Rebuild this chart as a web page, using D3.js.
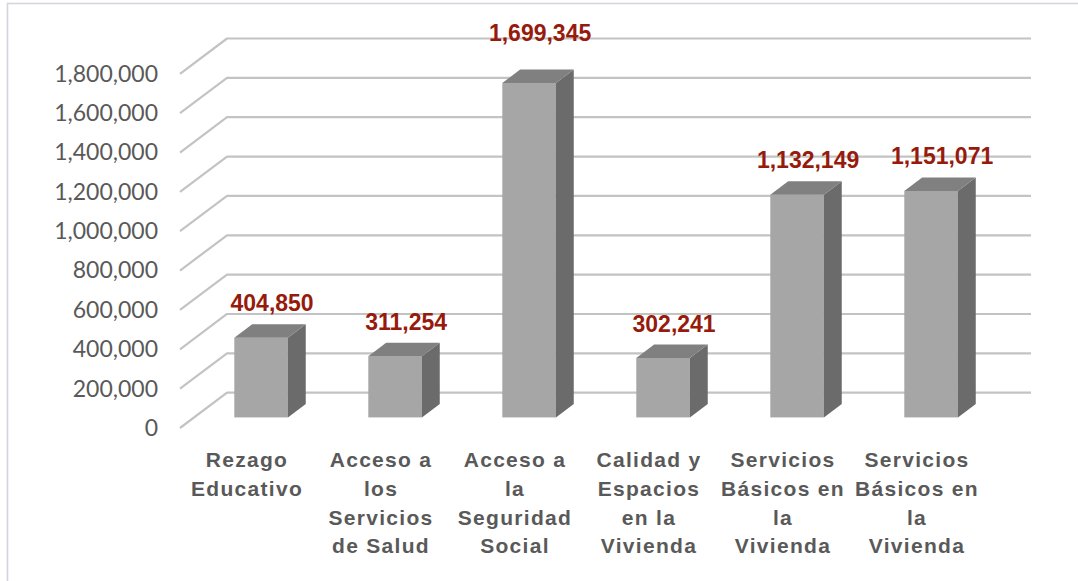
<!DOCTYPE html>
<html>
<head>
<meta charset="utf-8">
<script src="https://cdn.jsdelivr.net/npm/d3@7"></script>
<style>
  html, body { margin: 0; padding: 0; background: #ffffff; }
  svg { display: block; }
</style>
</head>
<body>
<svg id="chart" width="1078" height="581"></svg>
<script>
// ---- data ----
const categories = [
  "Rezago\nEducativo",
  "Acceso a\nlos\nServicios\nde Salud",
  "Acceso a\nla\nSeguridad\nSocial",
  "Calidad y\nEspacios\nen la\nVivienda",
  "Servicios\nBásicos en\nla\nVivienda",
  "Servicios\nBásicos en\nla\nVivienda"
];
const values = [404850, 311254, 1699345, 302241, 1132149, 1151071];
const tickValues = [0, 200000, 400000, 600000, 800000, 1000000, 1200000, 1400000, 1600000, 1800000];

// ---- layout ----
const W = 1078, H = 581;
const svg = d3.select("#chart");

const frontLeft = 180, frontRight = 984;
const floorFront = 428, topFront = 73.8;
const depthX = 47, depthY = -35.3;      // full depth offset of the 3D box
const barD1 = 0.30, barD2 = 0.68;       // bar front/back depth fractions
const lineH = 28.8;

const x = d3.scaleBand()
  .domain(d3.range(categories.length))
  .range([frontLeft, frontRight])
  .paddingInner(0.6)
  .paddingOuter(0.3);

const y = d3.scaleLinear()
  .domain([0, 1800000])
  .range([floorFront, topFront]);

const P = (px, py, d) => [px + d * depthX, py + d * depthY];

// border
svg.append("rect")
  .attr("x", 7.5).attr("y", 3.5)
  .attr("width", W + 20).attr("height", H + 20)
  .attr("fill", "none")
  .attr("stroke", "#d3d5de")
  .attr("stroke-width", 1.6);

// gridlines (side wall diagonals + back wall horizontals)
const grid = svg.append("g");
tickValues.forEach(v => {
  const f = [frontLeft, y(v)];
  const b = P(frontLeft, y(v), 1);
  const bEnd = P(frontRight, y(v), 1);
  grid.append("path")
    .attr("d", d3.line()([f, b, bEnd]))
    .attr("fill", "none")
    .attr("stroke", "#c3c3c3")
    .attr("stroke-width", 2.2)
    .attr("stroke-linejoin", "round");
});

// y axis labels
const yAxis = d3.axisLeft(y)
  .tickValues(tickValues)
  .tickFormat(d3.format(","))
  .tickSize(0)
  .tickPadding(22);
const gy = svg.append("g")
  .attr("transform", `translate(${frontLeft},0)`)
  .call(yAxis);
gy.select(".domain").remove();
gy.selectAll("text")
  .attr("fill", "#595959")
  .style("font-family", "Lato, 'Open Sans', sans-serif")
  .style("font-size", "23px");

// bars
const barW = x.bandwidth();
const bars = svg.append("g");
values.forEach((v, i) => {
  const x0 = x(i) + barD1 * depthX;          // front-face left at bar front depth
  const yb = floorFront + barD1 * depthY;     // front-face bottom
  const yt = y(v) + barD1 * depthY;           // front-face top
  const ddx = (barD2 - barD1) * depthX;
  const ddy = (barD2 - barD1) * depthY;
  // front
  bars.append("rect")
    .attr("x", x0).attr("y", yt)
    .attr("width", barW).attr("height", yb - yt)
    .attr("fill", "#a6a6a6");
  // side
  bars.append("path")
    .attr("d", d3.line()([[x0 + barW, yt], [x0 + barW + ddx, yt + ddy], [x0 + barW + ddx, yb + ddy], [x0 + barW, yb]]) + "Z")
    .attr("fill", "#6b6b6b");
  // top
  bars.append("path")
    .attr("d", d3.line()([[x0, yt], [x0 + ddx, yt + ddy], [x0 + barW + ddx, yt + ddy], [x0 + barW, yt]]) + "Z")
    .attr("fill", "#808080");
  // value label
  const lift = v === d3.max(values) ? 29 : 13;
  svg.append("text")
    .attr("x", x0 + barW / 2 + 11)
    .attr("y", yt + ddy - lift)
    .attr("text-anchor", "middle")
    .attr("fill", "#961b0c")
    .style("font-family", "'Liberation Sans', Arial, sans-serif")
    .style("font-weight", "bold")
    .style("font-size", "23px")
    .text(d3.format(",")(v));
});

// x axis labels
const xAxis = d3.axisBottom(x)
  .tickFormat(i => categories[i])
  .tickSize(0)
  .tickPadding(24);
const gx = svg.append("g")
  .attr("transform", `translate(0,${floorFront})`)
  .call(xAxis);
gx.select(".domain").remove();
gx.selectAll("text")
  .attr("fill", "#595959")
  .style("font-family", "'Liberation Sans', Arial, sans-serif")
  .style("font-weight", "bold")
  .style("font-size", "21px")
  .style("letter-spacing", "1.3px")
  .each(function() {
    const t = d3.select(this);
    const lines = t.text().split("\n");
    const yAttr = +t.attr("y");
    const dy = t.attr("dy");
    t.text(null);
    lines.forEach((ln, k) => {
      t.append("tspan")
        .attr("x", 0)
        .attr("y", yAttr + k * lineH)
        .attr("dy", dy)
        .text(ln);
    });
  });
</script>
</body>
</html>
